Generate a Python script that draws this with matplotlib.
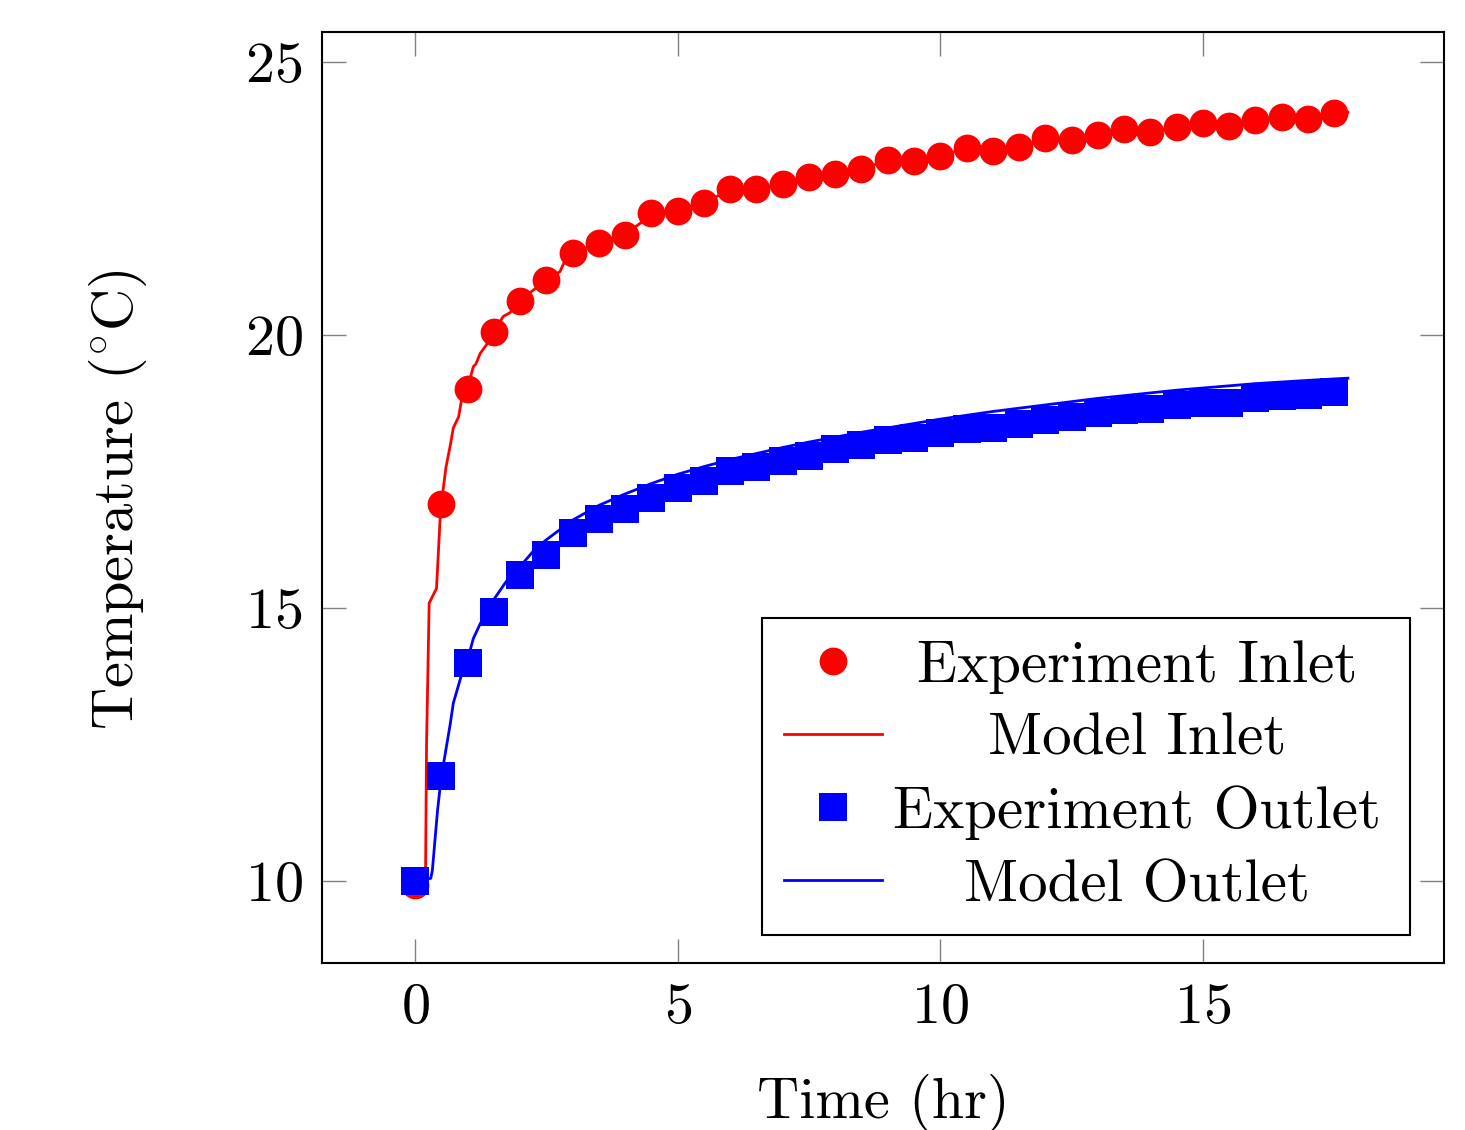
import numpy as np
import matplotlib
matplotlib.use("Agg")
import matplotlib.pyplot as plt

plt.rcParams['font.family'] = 'cmr10'
plt.rcParams['mathtext.fontset'] = 'cm'
plt.rcParams['axes.formatter.use_mathtext'] = True

# experiment data, one reading every half hour
exp_time = [0, 0.5, 1, 1.5, 2, 2.5, 3, 3.5, 4, 4.5, 5, 5.5, 6, 6.5, 7, 7.5, 8, 8.5,
            9, 9.5, 10, 10.5, 11, 11.5, 12, 12.5, 13, 13.5, 14, 14.5, 15, 15.5, 16, 16.5, 17, 17.5]
exp_inlet = [9.93, 16.90, 19.02, 20.06, 20.63, 21.01, 21.51, 21.68, 21.84, 22.23, 22.28, 22.42,
             22.68, 22.68, 22.76, 22.90, 22.94, 23.04, 23.20, 23.19, 23.28, 23.43, 23.37, 23.45,
             23.60, 23.57, 23.66, 23.77, 23.71, 23.81, 23.88, 23.83, 23.93, 24.00, 23.96, 24.07]
exp_outlet = [10.0, 11.92, 13.99, 14.93, 15.60, 15.98, 16.38, 16.64, 16.81, 17.02, 17.19, 17.33,
              17.51, 17.59, 17.69, 17.78, 17.91, 17.99, 18.07, 18.12, 18.21, 18.27, 18.30, 18.37,
              18.44, 18.50, 18.58, 18.62, 18.65, 18.71, 18.76, 18.76, 18.84, 18.88, 18.90, 18.96]

# model curves
model_in_time = [0, 0.2, 0.22, 0.27, 0.41, 0.48, 0.5, 0.59, 0.67, 0.73, 0.83, 0.89, 1.0, 1.11,
                 1.16, 1.24, 1.36, 1.5, 1.68, 1.81, 2.0, 2.25, 2.5, 2.76, 2.83, 3.0, 3.5, 4.0,
                 4.5, 5.0, 5.5, 6.0, 6.5, 7.0, 7.5, 8.0, 8.5, 9.0, 9.5, 10.0, 10.5, 11.0, 11.5,
                 12.0, 12.5, 13.0, 13.5, 14.0, 14.5, 15.0, 15.5, 16.0, 16.5, 17.0, 17.5, 17.76]
model_in = [10.0, 10.0, 12.5, 15.09, 15.36, 16.67, 16.90, 17.58, 17.97, 18.30, 18.50, 18.83,
            19.02, 19.42, 19.47, 19.66, 19.82, 20.06, 20.34, 20.41, 20.63, 20.82, 21.01, 21.16,
            21.31, 21.51, 21.68, 21.84, 22.20, 22.28, 22.42, 22.66, 22.69, 22.77, 22.90, 22.95,
            23.04, 23.20, 23.20, 23.28, 23.42, 23.38, 23.46, 23.59, 23.58, 23.66, 23.76, 23.72,
            23.81, 23.87, 23.84, 23.93, 23.99, 23.97, 24.06, 24.08]

model_out_time = [0, 0.3, 0.33, 0.43, 0.5, 0.67, 0.73, 0.89, 1.0, 1.11, 1.24, 1.51, 1.74, 2.0,
                  2.25, 2.5, 3.0, 3.5, 4.0, 4.5, 5.0, 5.5, 6.0, 6.5, 7.0, 7.5, 8.0, 8.5, 9.0,
                  9.5, 10.0, 10.5, 11.0, 11.5, 12.0, 12.5, 13.0, 13.5, 14.0, 14.5, 15.0, 15.5,
                  16.0, 16.5, 17.0, 17.76]
model_out = [10.0, 10.05, 10.19, 11.3, 11.9, 12.87, 13.26, 13.79, 14.05, 14.44, 14.71, 15.17,
             15.49, 15.76, 16.04, 16.25, 16.61, 16.88, 17.09, 17.28, 17.45, 17.59, 17.72, 17.83,
             17.94, 18.04, 18.13, 18.22, 18.30, 18.38, 18.46, 18.53, 18.60, 18.66, 18.72, 18.78,
             18.84, 18.89, 18.94, 18.99, 19.03, 19.07, 19.11, 19.14, 19.17, 19.21]

labels = ['Experiment Inlet', 'Model Inlet', 'Experiment Outlet', 'Model Outlet']

fig = plt.figure(figsize=(14.65, 11.3), dpi=100)
ax = fig.add_axes([0.2198, 0.1478, 0.7659, 0.8239])

h1, = ax.plot(exp_time, exp_inlet, 'o', color='#ff0000', markersize=20, markeredgewidth=0)
h2, = ax.plot(model_in_time, model_in, '-', color='#ff0000', linewidth=2)
h3, = ax.plot(exp_time, exp_outlet, 's', color='#0000ff', markersize=20, markeredgewidth=0)
h4, = ax.plot(model_out_time, model_out, '-', color='#0000ff', linewidth=2)

ax.set_xlim(-1.77, 19.59)
ax.set_ylim(8.5, 25.55)
ax.set_xticks([0, 5, 10, 15])
ax.set_yticks([10, 15, 20, 25])

for s in ax.spines.values():
    s.set_linewidth(1.5)
ax.tick_params(direction='in', top=True, right=True, length=17, width=1,
               color='#808080', labelsize=42, pad=14)

ax.set_xlabel('Time (hr)', fontsize=42)
ax.set_ylabel('Temperature $(^{\\circ}\\mathrm{C})$', fontsize=42)
ax.xaxis.set_label_coords(0.5, -0.119)
ax.yaxis.set_label_coords(-0.154, 0.498)

leg = ax.legend([h1, h2, h3, h4], labels, loc='lower right', bbox_to_anchor=(0.970, 0.030),
                bbox_transform=ax.transAxes, borderaxespad=0, fontsize=42.5, fancybox=False,
                framealpha=1, edgecolor='black', numpoints=1, handlelength=1.66,
                handletextpad=0.30, borderpad=0.38, labelspacing=0.32)
leg.get_frame().set_linewidth(1.5)

# pgfplots centres the legend text, shift each label to the common centre
fig.canvas.draw()
texts = leg.get_texts()
widths = [t.get_window_extent().width for t in texts]
wmax = max(widths)
for t, w in zip(texts, widths):
    t.set_x((wmax - w) / 2 - 7)

fig.savefig('out.png', dpi=100)
